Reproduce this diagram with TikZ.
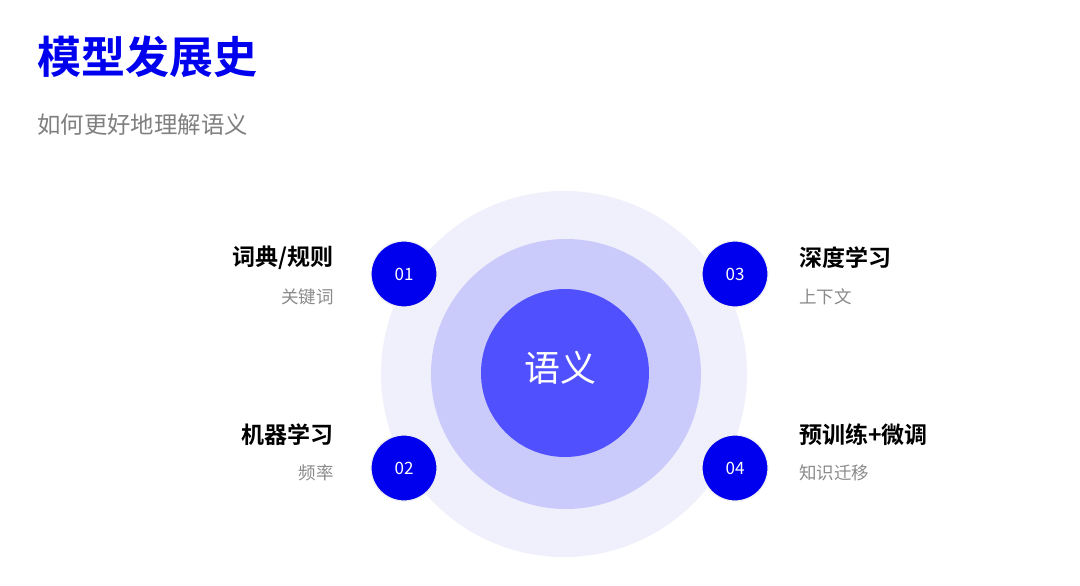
\documentclass[tikz,border=0pt]{standalone}
\usepackage{fontspec}
\newfontfamily\cjk{Noto Sans CJK SC}
\newfontfamily\cjkb{Noto Sans CJK SC Bold}
\definecolor{mainblue}{HTML}{0000EE}
\definecolor{ringout}{HTML}{F0F0FC}
\definecolor{ringmid}{HTML}{CBCBFB}
\definecolor{ringin}{HTML}{5050FF}
\definecolor{subgray}{HTML}{7F7F7F}
\definecolor{labgray}{HTML}{8A8A8A}
\begin{document}
\begin{tikzpicture}[x=1pt,y=-1pt,
  numdot/.style={circle,fill=mainblue,minimum size=66pt,inner sep=0pt,text=white,font=\cjk\fontsize{17}{17}\selectfont,
     draw=black!6,line width=1.2pt},
  headl/.style={inner sep=0pt,font=\cjkb\fontsize{23}{23}\selectfont,text=black},
  subl/.style={inner sep=0pt,font=\cjk\fontsize{17.5}{17.5}\selectfont,text=labgray}]
\useasboundingbox (0,0) rectangle (1080,586);
\fill[white] (0,0) rectangle (1080,586);
% title
\node[anchor=west,inner sep=0pt,font=\cjkb\fontsize{44}{44}\selectfont,text=mainblue] (title) at (37,57) {模型发展史};
\node[anchor=west,inner sep=0pt,font=\cjk\fontsize{23.4}{23.4}\selectfont,text=subgray] (subtitle) at (37,125) {如何更好地理解语义};
% rings
\node[circle,fill=ringout,minimum size=366pt,inner sep=0pt] (outer) at (564,374) {};
\node[circle,fill=ringmid,minimum size=270pt,inner sep=0pt] (mid) at (566,374) {};
\node[circle,fill=ringin,minimum size=168pt,inner sep=0pt] (core) at (565,373) {};
\node[inner sep=0pt,text=white,font=\cjk\fontsize{36}{36}\selectfont] (coretext) at (560,368) {语义};
% numbered dots
\node[numdot] (n1) at (404,274) {01};
\node[numdot] (n2) at (404,468) {02};
\node[numdot] (n3) at (735,274) {03};
\node[numdot] (n4) at (735,468) {04};
% labels left
\node[headl,anchor=east] (h1) at (334,258) {词典/规则};
\node[subl,anchor=east] (s1) at (334,297) {关键词};
\node[headl,anchor=east] (h2) at (334,435) {机器学习};
\node[subl,anchor=east] (s2) at (334,473) {频率};
% labels right
\node[headl,anchor=west] (h3) at (799,258) {深度学习};
\node[subl,anchor=west] (s3) at (799,297) {上下文};
\node[headl,anchor=west] (h4) at (799,435) {预训练+微调};
\node[subl,anchor=west] (s4) at (799,473) {知识迁移};
\end{tikzpicture}
\end{document}
